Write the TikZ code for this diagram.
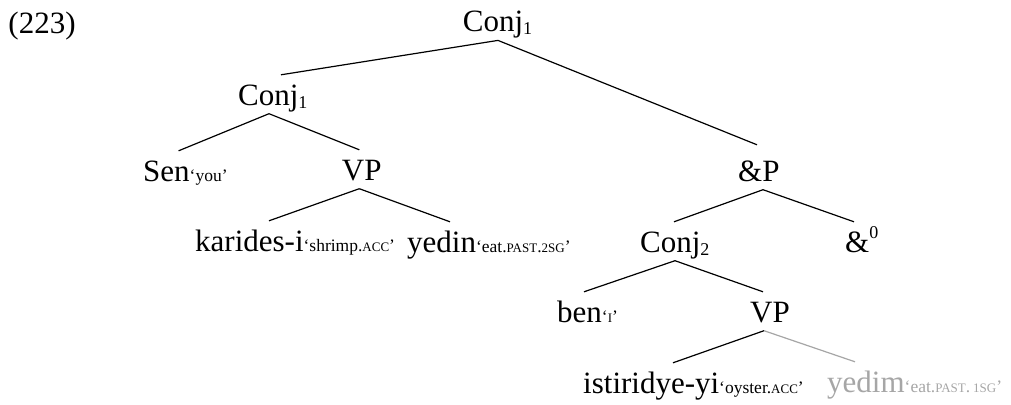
\documentclass[tikz,border=0pt]{standalone}
\usepackage{fontspec}
\setmainfont{Liberation Serif}
\definecolor{lg}{HTML}{A6A6A6}
\newcommand{\gl}[1]{{\fontsize{17.5}{20}\selectfont #1}}
\newcommand{\sca}[1]{{\fontsize{13}{15}\selectfont #1}}
\newcommand{\sbs}[1]{\raisebox{-3pt}{\fontsize{18}{20}\selectfont #1}}
\newcommand{\sps}[1]{\raisebox{14pt}{\fontsize{18}{20}\selectfont #1}}
\tikzset{
  w/.style={anchor=base west, inner xsep=0pt, inner ysep=0pt, text height=30pt, text depth=8.5pt, font=\fontsize{31}{36}\selectfont},
  br/.style={line width=1.2pt, draw=black},
  gr/.style={line width=1.2pt, draw=lg},
}
\begin{document}
\begin{tikzpicture}[x=1pt,y=-1pt]
\useasboundingbox (0,0) rectangle (1011,404);
\node[w] (num) at (8.3,33.3) {(223)};
\node[w] (c1) at (462.7,31.7) {Conj\sbs{1}};
\node[w] (c1l) at (238,105) {Conj\sbs{1}};
\node[w] (sen) at (143,181) {Sen\gl{‘you’}};
\node[w] (vp1) at (341.7,180) {VP};
\node[w] (kar) at (195,251) {karides-i\gl{‘shrimp.\sca{ACC}’}};
\node[w] (yedin) at (407,252) {yedin\gl{‘eat.\sca{PAST}.\sca{2SG}’}};
\node[w] (andp) at (738,181) {\&P};
\node[w] (c2) at (640,252) {Conj\sbs{2}};
\node[w] (and0) at (845,252) {\&\sps{0}};
\node[w] (ben) at (557,322) {ben\gl{‘\sca{I}’}};
\node[w] (vp2) at (750,322) {VP};
\node[w] (ist) at (583,393) {istiridye-yi\gl{‘oyster.\sca{ACC}’}};
\node[w, text=lg] (yedim) at (827,392) {yedim\gl{‘eat.\sca{PAST}.\,\sca{1SG}’}};
\draw[br] ([xshift=35.3pt]c1.south west) -- ([xshift=43pt]c1l.north west);
\draw[br] ([xshift=35.3pt]c1.south west) -- ([xshift=19pt,yshift=6pt]andp.north west);
\draw[br] ([xshift=31pt]c1l.south west) -- ([xshift=35.6pt]sen.north west);
\draw[br] ([xshift=31pt]c1l.south west) -- ([xshift=17.6pt]vp1.north west);
\draw[br] ([xshift=17.6pt]vp1.south west) -- ([xshift=74pt]kar.north west);
\draw[br] ([xshift=17.6pt]vp1.south west) -- ([xshift=43pt]yedin.north west);
\draw[br] ([xshift=25pt]andp.south west) -- ([xshift=34pt]c2.north west);
\draw[br] ([xshift=25pt]andp.south west) -- ([xshift=9pt]and0.north west);
\draw[br] ([xshift=35pt]c2.south west) -- ([xshift=27pt]ben.north west);
\draw[br] ([xshift=35pt]c2.south west) -- ([xshift=13pt]vp2.north west);
\draw[br] ([xshift=14pt]vp2.south west) -- ([xshift=90pt]ist.north west);
\draw[gr] ([xshift=14pt]vp2.south west) -- ([xshift=28pt]yedim.north west);
\end{tikzpicture}
\end{document}
